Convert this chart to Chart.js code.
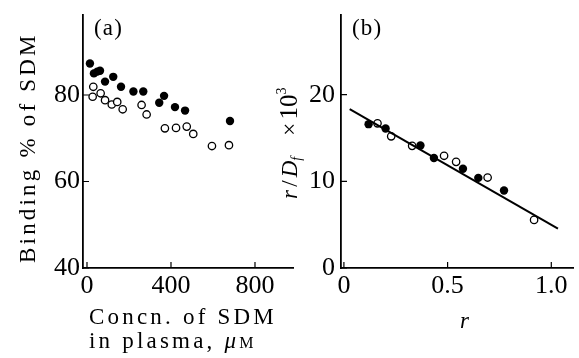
<!DOCTYPE html>
<html>
<head>
<meta charset="utf-8">
<script src="https://cdn.jsdelivr.net/npm/chart.js@4.4.1/dist/chart.umd.min.js"></script>
<style>
  html, body { margin: 0; padding: 0; background: #fff; }
  #wrap { position: relative; width: 579px; height: 358px; overflow: hidden; }
  canvas { position: absolute; top: 0; }
  #chart-a { left: 0; }
  #chart-b { left: 270px; }
</style>
</head>
<body>
<div id="wrap">
  <canvas id="chart-a" width="300" height="358" style="width:300px;height:358px"></canvas>
  <canvas id="chart-b" width="309" height="358" style="width:309px;height:358px"></canvas>
</div>
<script>
/* ---------- data (a): binding % vs concentration ---------- */
const concFilled = [14, 33, 49, 62, 86, 125, 162, 221, 268, 344, 367, 419, 467, 681];
const bindFilled = [87.3, 85.0, 85.4, 85.6, 83.1, 84.2, 81.9, 80.8, 80.8, 78.2, 79.8, 77.2, 76.4, 74.0];
const concOpen = [27, 30, 65, 86, 118, 144, 170, 260, 284, 371, 424, 475, 506, 595, 676];
const bindOpen = [79.6, 81.9, 80.4, 78.8, 77.8, 78.4, 76.7, 77.7, 75.5, 72.3, 72.4, 72.7, 71.0, 68.2, 68.4];
const ticksAx = [0, 400, 800];
const ticksAy = [40, 60, 80];

/* ---------- data (b): Scatchard plot ---------- */
const rFilled = [0.119, 0.201, 0.369, 0.434, 0.574, 0.648, 0.772];
const rdfFilled = [16.6, 16.1, 14.14, 12.7, 11.45, 10.4, 8.94];
const rOpen = [0.162, 0.228, 0.329, 0.483, 0.541, 0.693, 0.917];
const rdfOpen = [16.7, 15.2, 14.1, 12.95, 12.25, 10.44, 5.55];
const fitR = [0.028, 1.032];
const fitRdf = [18.35, 4.55];
const ticksBx = [0, 0.5, 1.0];
const ticksBxLabels = ['0', '0.5', '1.0'];
const ticksBy = [0, 10, 20];

/* ---------- helpers ---------- */
const INK = '#000';
const SERIF = "'Liberation Serif', 'Times New Roman', serif";

function pts(xs, ys) {
  return xs.map((x, i) => ({ x, y: ys[i] }));
}

// draw a run of text pieces along one baseline, optionally rotated
function drawRich(ctx, pieces, x, y, rot) {
  ctx.save();
  ctx.translate(x, y);
  if (rot) ctx.rotate(rot);
  ctx.fillStyle = INK;
  ctx.textAlign = 'left';
  ctx.textBaseline = 'alphabetic';
  let cx = 0;
  pieces.forEach(p => {
    ctx.font = `${p.style || ''} ${p.size}px ${SERIF}`;
    ctx.letterSpacing = (p.spacing ?? 3.2) + 'px';
    ctx.fillText(p.text, cx, p.dy || 0);
    cx += ctx.measureText(p.text).width;
  });
  ctx.restore();
}

// inward tick marks, drawn from the scales
const inwardTicks = {
  id: 'inwardTicks',
  afterDraw(chart) {
    const { ctx, chartArea: a } = chart;
    ctx.save();
    ctx.strokeStyle = INK;
    ctx.lineWidth = 1.2;
    ctx.beginPath();
    chart.scales.x.ticks.forEach(t => {
      const px = chart.scales.x.getPixelForValue(t.value);
      ctx.moveTo(px, a.bottom);
      ctx.lineTo(px, a.bottom - 6);
    });
    chart.scales.y.ticks.forEach(t => {
      const py = chart.scales.y.getPixelForValue(t.value);
      ctx.moveTo(a.left, py);
      ctx.lineTo(a.left + 6, py);
    });
    ctx.stroke();
    ctx.restore();
  }
};

function axis(min, max, ticks, labels, pad, isY, fitSize) {
  return {
    type: 'linear',
    min, max,
    afterBuildTicks: s => { s.ticks = ticks.map(v => ({ value: v })); },
    afterFit: s => {
      if (isY) s.width = fitSize; else s.height = fitSize;
      s.paddingLeft = s.paddingRight = s.paddingTop = s.paddingBottom = 0;
    },
    grid: { drawOnChartArea: false, drawTicks: false },
    border: { display: true, color: INK, width: 1.8 },
    ticks: {
      autoSkip: false,
      maxRotation: 0,
      padding: pad,
      color: INK,
      font: { family: SERIF, size: 26 },
      callback: (v, i) => labels[i]
    }
  };
}

const filledStyle = { pointRadius: 4.2, pointBackgroundColor: INK, pointBorderWidth: 0, showLine: false };
const openStyle = { pointRadius: 3.7, pointBackgroundColor: '#fff', pointBorderColor: INK, pointBorderWidth: 1.3, showLine: false };

const common = {
  responsive: false,
  animation: false,
  events: [],
  plugins: { legend: { display: false }, tooltip: { enabled: false } }
};

/* ---------- panel (a) ---------- */
new Chart(document.getElementById('chart-a'), {
  type: 'scatter',
  data: {
    datasets: [
      { data: pts(concOpen, bindOpen), ...openStyle },
      { data: pts(concFilled, bindFilled), ...filledStyle }
    ]
  },
  options: {
    ...common,
    layout: { padding: { left: 0, right: 7, top: 15, bottom: 0 } },
    scales: {
      x: axis(-19, 981, ticksAx, ticksAx.map(String), 3, false, 90),
      y: axis(40, 98.5, ticksAy, ticksAy.map(String), 3, true, 83)
    }
  },
  plugins: [inwardTicks, {
    id: 'titlesA',
    afterDraw(chart) {
      const ctx = chart.ctx;
      drawRich(ctx, [{ text: 'Binding % of SDM', size: 23 }], 35, 263, -Math.PI / 2);
      drawRich(ctx, [{ text: 'Concn. of SDM', size: 23 }], 89, 324);
      drawRich(ctx, [
        { text: 'in plasma, ', size: 23 },
        { text: 'μ', size: 23, style: 'italic' },
        { text: 'M', size: 16 }
      ], 89, 348);
      drawRich(ctx, [{ text: '(a)', size: 23, spacing: 1.2 }], 94, 35);
    }
  }]
});

/* ---------- panel (b) ---------- */
new Chart(document.getElementById('chart-b'), {
  type: 'scatter',
  data: {
    datasets: [
      { data: pts(fitR, fitRdf), showLine: true, pointRadius: 0, borderColor: INK, borderWidth: 2 },
      { data: pts(rOpen, rdfOpen), ...openStyle },
      { data: pts(rFilled, rdfFilled), ...filledStyle }
    ]
  },
  options: {
    ...common,
    layout: { padding: { left: 0, right: 0, top: 15, bottom: 0 } },
    scales: {
      x: axis(-0.014, 1.108, ticksBx, ticksBxLabels, 3, false, 90),
      y: axis(0, 29.2, ticksBy, ticksBy.map(String), 6, true, 71)
    }
  },
  plugins: [inwardTicks, {
    id: 'titlesB',
    afterDraw(chart) {
      const ctx = chart.ctx;
      drawRich(ctx, [
        { text: 'r', size: 23, style: 'italic' },
        { text: '/', size: 23 },
        { text: 'D', size: 23, style: 'italic', spacing: 0 },
        { text: 'f', size: 14, style: 'italic', dy: 4 },
        { text: '  ×', size: 23 },
        { text: '10', size: 25, spacing: 0 },
        { text: '3', size: 14, dy: -11 }
      ], 27, 199, -Math.PI / 2);
      drawRich(ctx, [{ text: 'r', size: 23, style: 'italic' }], 190, 328);
      drawRich(ctx, [{ text: '(b)', size: 23, spacing: 1.2 }], 82, 35);
    }
  }]
});
</script>
</body>
</html>
